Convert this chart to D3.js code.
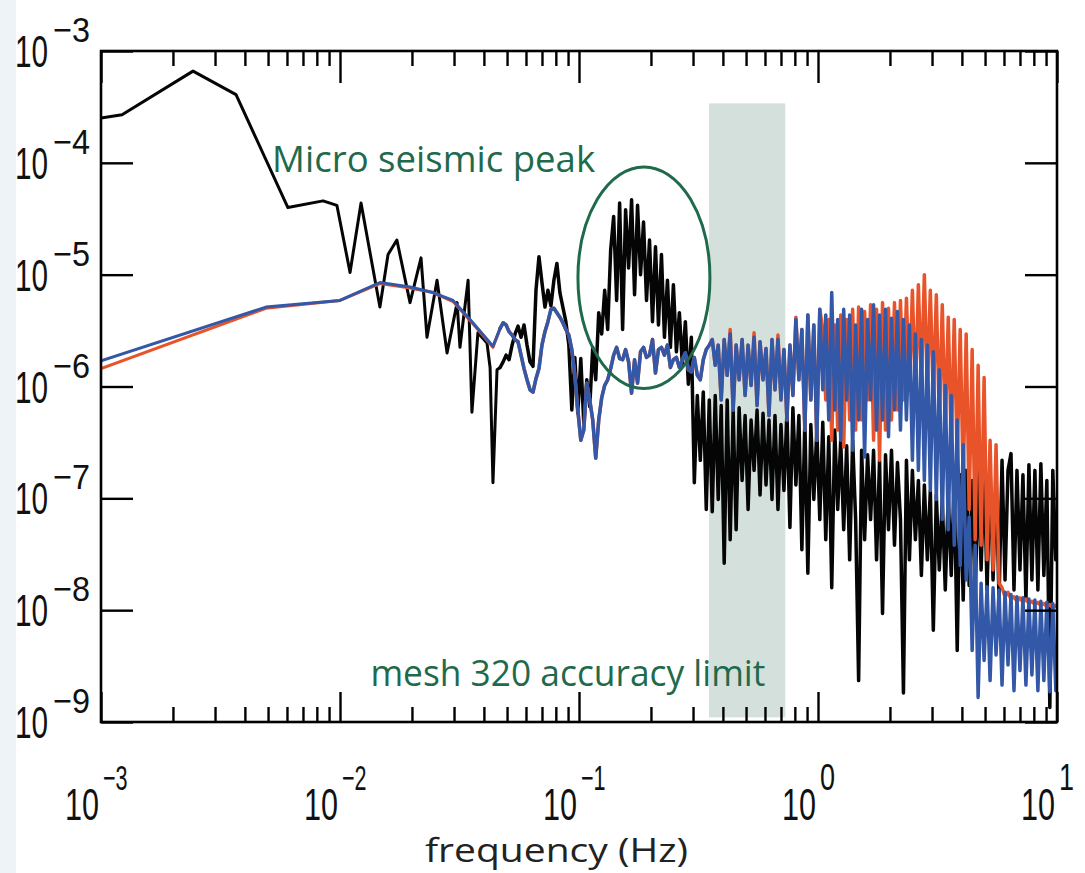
<!DOCTYPE html>
<html>
<head>
<meta charset="utf-8">
<script src="https://cdn.jsdelivr.net/npm/d3@7"></script>
<style>
  html, body { margin: 0; padding: 0; background: #ffffff; }
  svg { display: block; }
</style>
</head>
<body>
<svg id="chart" width="1085" height="873"></svg>
<script>
// ---- axis extents ----
const freqDomain = [1e-3, 10];        // Hz
const powerDomain = [1e-9, 1e-3];
const xTickExponents = [-3, -2, -1, 0, 1];
const yTickExponents = [-9, -8, -7, -6, -5, -4, -3];

// ---- sparse low-frequency bins (log10 Hz, log10 power) ----
const blackLowLogHz = [-3.000, -2.912, -2.615, -2.435, -2.218, -2.071, -2.013, -1.958, -1.912, -1.833,
  -1.799, -1.762, -1.707, -1.661, -1.636, -1.594, -1.552, -1.510, -1.498, -1.464,
  -1.448, -1.423, -1.385, -1.372, -1.360, -1.343];
const blackLowLogPsd = [-3.60, -3.57, -3.18, -3.39, -4.40, -4.34, -4.38, -4.98, -4.36, -5.29,
  -4.82, -4.69, -5.25, -4.85, -5.56, -5.05, -5.70, -5.25, -5.65, -5.05,
  -6.23, -5.52, -5.61, -5.83, -6.86, -5.85];

const blueLowLogHz = [-3.000, -2.310, -2.000, -1.833, -1.707, -1.611, -1.527, -1.444, -1.360];
const blueLowLogPsd = [-5.77, -5.29, -5.23, -5.07, -5.11, -5.16, -5.23, -5.43, -5.64];

const orangeLowLogHz = [-3.000, -2.310, -2.000, -1.833, -1.707, -1.611, -1.527, -1.444, -1.360];
const orangeLowLogPsd = [-5.84, -5.30, -5.23, -5.08, -5.12, -5.16, -5.24, -5.44, -5.65];

// ---- dense part of the spectra on a shared log10 frequency grid ----
const denseLogHz = [
  -1.3300,-1.3175,-1.3050,-1.2925,-1.2800,-1.2675,-1.2550,-1.2425,-1.2300,-1.2175,
  -1.2050,-1.1925,-1.1800,-1.1675,-1.1550,-1.1425,-1.1300,-1.1175,-1.1050,-1.0925,
  -1.0800,-1.0675,-1.0550,-1.0425,-1.0300,-1.0175,-1.0050,-0.9925,-0.9800,-0.9675,
  -0.9550,-0.9425,-0.9300,-0.9175,-0.9050,-0.8925,-0.8800,-0.8675,-0.8550,-0.8425,
  -0.8300,-0.8175,-0.8050,-0.7925,-0.7800,-0.7675,-0.7550,-0.7425,-0.7300,-0.7175,
  -0.7050,-0.6925,-0.6800,-0.6675,-0.6550,-0.6425,-0.6300,-0.6175,-0.6050,-0.5925,
  -0.5800,-0.5675,-0.5550,-0.5425,-0.5300,-0.5175,-0.5050,-0.4925,-0.4800,-0.4675,
  -0.4550,-0.4425,-0.4300,-0.4175,-0.4050,-0.3925,-0.3800,-0.3675,-0.3550,-0.3425,
  -0.3300,-0.3175,-0.3050,-0.2925,-0.2800,-0.2675,-0.2550,-0.2425,-0.2300,-0.2175,
  -0.2050,-0.1925,-0.1800,-0.1675,-0.1550,-0.1425,-0.1300,-0.1175,-0.1050,-0.0925,
  -0.0800,-0.0675,-0.0550,-0.0425,-0.0300,-0.0175,-0.0050,0.0075,0.0200,0.0325,
  0.0450,0.0575,0.0700,0.0825,0.0950,0.1075,0.1200,0.1325,0.1450,0.1575,
  0.1700,0.1825,0.1950,0.2075,0.2200,0.2325,0.2450,0.2575,0.2700,0.2825,
  0.2950,0.3075,0.3200,0.3325,0.3450,0.3575,0.3700,0.3825,0.3950,0.4075,
  0.4200,0.4325,0.4450,0.4575,0.4700,0.4825,0.4950,0.5075,0.5200,0.5325,
  0.5450,0.5575,0.5700,0.5825,0.5950,0.6075,0.6200,0.6325,0.6450,0.6575,
  0.6700,0.6825,0.6950,0.7075,0.7200,0.7325,0.7450,0.7575,0.7700,0.7825,
  0.7950,0.8075,0.8200,0.8325,0.8450,0.8575,0.8700,0.8825,0.8950,0.9075,
  0.9200,0.9325,0.9450,0.9575,0.9700,0.9825,0.9950];

const blackDenseLogPsd = [
  -5.83,-5.78,-5.72,-5.76,-5.63,-5.53,-5.46,-5.56,-5.45,-5.63,
  -5.78,-5.82,-5.14,-4.84,-5.07,-5.29,-5.14,-5.28,-5.05,-4.90,
  -5.16,-5.29,-5.42,-5.63,-6.21,-5.74,-6.24,-5.75,-6.33,-5.94,
  -6.18,-5.65,-5.94,-5.34,-5.53,-5.14,-5.49,-4.78,-4.48,-5.23,
  -4.36,-5.49,-4.42,-4.94,-4.33,-5.18,-4.38,-5.00,-4.53,-5.23,
  -4.69,-5.42,-4.75,-5.45,-4.82,-5.56,-5.05,-5.65,-5.09,-5.69,
  -5.34,-5.81,-5.42,-5.98,-5.56,-6.86,-6.08,-6.66,-6.05,-7.10,
  -6.12,-7.12,-6.08,-7.01,-6.17,-7.58,-6.12,-7.37,-6.21,-7.28,
  -6.19,-6.84,-6.26,-7.10,-6.30,-6.75,-6.21,-6.97,-6.24,-6.88,
  -6.30,-7.01,-6.26,-7.10,-6.34,-6.93,-6.23,-7.26,-6.19,-6.88,
  -6.26,-7.46,-6.30,-7.67,-6.34,-7.01,-6.39,-7.19,-6.32,-7.37,
  -6.45,-7.80,-6.39,-7.10,-6.48,-7.28,-6.53,-7.55,-6.48,-7.19,
  -8.63,-6.57,-7.37,-6.61,-7.19,-6.57,-7.55,-6.66,-8.03,-6.61,
  -7.28,-6.57,-7.42,-6.68,-7.19,-8.74,-6.66,-7.55,-6.75,-7.37,
  -6.84,-7.69,-6.88,-7.55,-6.93,-8.18,-6.97,-7.64,-7.01,-7.82,
  -6.97,-7.69,-6.84,-8.36,-6.79,-7.91,-6.75,-7.78,-6.84,-7.91,
  -6.75,-7.64,-6.70,-7.82,-6.75,-7.73,-6.79,-7.91,-6.66,-7.73,
  -6.75,-6.60,-7.82,-6.75,-7.64,-6.79,-7.91,-6.70,-7.73,-6.75,
  -7.82,-6.69,-7.69,-6.84,-8.87,-6.75,-7.55];

const blueDenseLogPsd = [
  -5.48,-5.43,-5.45,-5.51,-5.54,-5.58,-5.60,-5.72,-5.84,-5.94,
  -6.03,-6.05,-5.93,-5.84,-5.63,-5.51,-5.42,-5.31,-5.30,-5.34,
  -5.38,-5.43,-5.49,-5.54,-5.67,-5.90,-6.21,-6.48,-6.39,-5.97,
  -6.12,-6.30,-6.64,-6.30,-6.10,-5.99,-5.94,-5.84,-5.72,-5.65,
  -5.75,-5.76,-5.67,-5.78,-6.06,-5.76,-5.97,-5.69,-5.65,-5.74,
  -5.72,-5.58,-5.88,-5.67,-5.65,-5.72,-5.63,-5.83,-5.76,-5.74,
  -5.83,-5.76,-5.70,-5.85,-5.87,-5.74,-5.90,-5.94,-5.76,-5.67,
  -5.63,-5.58,-5.81,-5.63,-6.12,-5.58,-5.90,-5.53,-6.21,-5.63,
  -5.94,-5.58,-6.08,-5.63,-5.99,-5.56,-6.17,-5.60,-5.94,-5.66,
  -6.26,-5.58,-6.03,-5.58,-6.12,-5.67,-6.30,-5.63,-6.08,-5.40,
  -5.94,-5.49,-6.39,-5.36,-6.12,-5.45,-6.48,-5.31,-6.03,-5.36,
  -6.30,-5.16,-6.21,-5.40,-6.48,-5.31,-6.12,-5.36,-6.57,-5.45,
  -6.30,-5.31,-6.63,-5.40,-6.12,-5.27,-6.39,-5.36,-6.30,-5.31,
  -6.45,-5.39,-6.21,-5.33,-6.39,-5.40,-6.30,-5.45,-6.66,-5.53,
  -6.75,-5.58,-6.84,-5.63,-6.93,-5.69,-7.01,-5.85,-7.19,-5.99,
  -7.28,-6.08,-7.42,-6.30,-7.60,-6.52,-7.73,-7.17,-8.36,-7.42,
  -8.78,-7.76,-8.45,-7.79,-8.63,-7.80,-8.40,-7.82,-8.67,-7.84,
  -8.49,-7.86,-8.72,-7.88,-8.54,-7.89,-8.67,-7.90,-8.58,-7.91,
  -8.72,-7.92,-8.63,-7.93,-8.73,-7.94,-8.72];

const orangeDenseLogPsd = [
  -5.48,-5.43,-5.45,-5.51,-5.54,-5.58,-5.60,-5.72,-5.84,-5.94,
  -6.03,-6.05,-5.93,-5.84,-5.63,-5.51,-5.42,-5.31,-5.30,-5.34,
  -5.38,-5.43,-5.49,-5.54,-5.67,-5.90,-6.21,-6.48,-6.39,-5.97,
  -6.12,-6.30,-6.64,-6.30,-6.10,-5.99,-5.94,-5.84,-5.72,-5.65,
  -5.75,-5.76,-5.67,-5.78,-6.06,-5.76,-5.97,-5.69,-5.65,-5.74,
  -5.72,-5.58,-5.88,-5.67,-5.65,-5.72,-5.63,-5.83,-5.76,-5.74,
  -5.83,-5.76,-5.70,-5.85,-5.87,-5.74,-5.90,-5.94,-5.76,-5.67,
  -5.63,-5.58,-5.81,-5.63,-6.12,-5.58,-5.90,-5.49,-6.21,-5.63,
  -5.94,-5.58,-6.08,-5.63,-5.99,-5.52,-6.17,-5.60,-5.94,-5.66,
  -6.26,-5.58,-6.03,-5.54,-6.12,-5.67,-6.30,-5.63,-6.08,-5.38,
  -5.94,-5.49,-6.39,-5.36,-6.12,-5.45,-6.48,-5.31,-5.49,-6.12,
  -5.40,-6.48,-5.45,-6.39,-5.36,-6.54,-5.40,-6.30,-5.31,-6.39,
  -5.29,-6.30,-5.33,-6.12,-5.27,-6.48,-5.31,-6.66,-5.25,-6.39,
  -5.30,-6.30,-5.25,-6.21,-5.23,-6.12,-5.21,-6.03,-5.14,-6.08,
  -5.09,-5.99,-5.00,-6.03,-5.14,-6.12,-5.18,-6.30,-5.27,-6.39,
  -5.38,-6.52,-5.40,-6.66,-5.49,-6.86,-5.53,-7.10,-5.67,-7.37,
  -5.81,-7.42,-5.92,-7.55,-6.48,-7.64,-6.52,-7.76,-7.80,-7.88,
  -7.84,-7.90,-7.88,-7.92,-7.89,-7.93,-7.90,-7.94,-7.92,-7.95,
  -7.93,-7.96,-7.94,-7.97,-7.95,-7.98,-7.96];

// ---- annotation regions ----
const bandHz = [0.35, 0.73];              // shaded accuracy-limit band
const bandPower = [1.1e-9, 3.4e-4];
const peakHz = [0.099, 0.353];            // ellipse round the micro-seismic peak
const peakPower = [9.6e-7, 9.2e-5];
const peakLabel = "Micro seismic peak";
const bandLabel = "mesh 320 accuracy limit";
const xTitle = "frequency (Hz)";

// ---- layout ----
const W = 1085, H = 873;
const plot = { left: 101, right: 1057, top: 51, bottom: 722 };
const svg = d3.select("#chart");

const x = d3.scaleLog().domain(freqDomain).range([plot.left, plot.right]);
const y = d3.scaleLog().domain(powerDomain).range([plot.bottom, plot.top]);

const GREEN = "#1f6a4b";
const tickFont = "'Liberation Sans', Arimo, sans-serif";
const textFont = "'Open Sans', 'Noto Sans', sans-serif";

// page edge strip
svg.append("rect").attr("x", 0).attr("y", 0).attr("width", W).attr("height", H).attr("fill", "#ffffff");
svg.append("rect").attr("x", 0).attr("y", 0).attr("width", 16).attr("height", H).attr("fill", "#eef3f8");

svg.append("defs").append("clipPath").attr("id", "plotClip")
  .append("rect")
  .attr("x", plot.left).attr("y", plot.top)
  .attr("width", plot.right - plot.left).attr("height", plot.bottom - plot.top);

// shaded band
svg.append("rect")
  .attr("x", x(bandHz[0]))
  .attr("y", y(bandPower[1]))
  .attr("width", x(bandHz[1]) - x(bandHz[0]))
  .attr("height", y(bandPower[0]) - y(bandPower[1]))
  .attr("fill", "#d4e0dc");

// ---- spectra: sparse low-frequency part and dense part ----
const toPoints = (lfs, lps) => lfs.map((lf, i) => ({ f: Math.pow(10, lf), p: Math.pow(10, lps[i]) }));

const series = [
  { name: "black", color: "#050505",
    low: toPoints(blackLowLogHz, blackLowLogPsd), dense: toPoints(denseLogHz, blackDenseLogPsd) },
  { name: "orange", color: "#e8532a",
    low: toPoints(orangeLowLogHz, orangeLowLogPsd), dense: toPoints(denseLogHz, orangeDenseLogPsd) },
  { name: "blue", color: "#3358a8",
    low: toPoints(blueLowLogHz, blueLowLogPsd), dense: toPoints(denseLogHz, blueDenseLogPsd) }
];

const line = d3.line().x(d => x(d.f)).y(d => y(d.p));

const lines = svg.append("g").attr("clip-path", "url(#plotClip)");
series.forEach(s => {
  const g = lines.append("g").attr("class", "series-" + s.name)
    .attr("fill", "none").attr("stroke", s.color)
    .attr("stroke-linejoin", "round").attr("stroke-linecap", "round");
  // sparse bins joined to the first dense bin
  g.append("path").attr("d", line(s.low.concat([s.dense[0]]))).attr("stroke-width", 3);
  // closely spaced bins
  g.append("path").attr("d", line(s.dense)).attr("stroke-width", 3.5);
});

// ellipse round the micro-seismic peak
svg.append("ellipse")
  .attr("cx", (x(peakHz[0]) + x(peakHz[1])) / 2)
  .attr("cy", (y(peakPower[0]) + y(peakPower[1])) / 2)
  .attr("rx", (x(peakHz[1]) - x(peakHz[0])) / 2)
  .attr("ry", (y(peakPower[0]) - y(peakPower[1])) / 2)
  .attr("fill", "none")
  .attr("stroke", GREEN)
  .attr("stroke-width", 3);

// annotation text
svg.append("text")
  .attr("x", x(5.2e-3)).attr("y", y(8.3e-5))
  .attr("font-family", textFont).attr("font-size", 37)
  .attr("fill", GREEN)
  .attr("textLength", 323).attr("lengthAdjust", "spacingAndGlyphs")
  .text(peakLabel);

svg.append("text")
  .attr("x", x(0.0134)).attr("y", y(2.1e-9))
  .attr("font-family", textFont).attr("font-size", 37)
  .attr("fill", GREEN)
  .attr("textLength", 395).attr("lengthAdjust", "spacingAndGlyphs")
  .text(bandLabel);

// ---- axes ----
const majorX = xTickExponents.map(e => Math.pow(10, e));
const minorX = [];
for (let e = -3; e < 1; e++) for (let m = 2; m <= 9; m++) minorX.push(m * Math.pow(10, e));
const majorY = yTickExponents.map(e => Math.pow(10, e));

function styleAxis(g) {
  g.select(".domain").remove();
  g.selectAll(".tick line").attr("stroke", "#000").attr("stroke-width", 2.4);
  g.selectAll(".tick text").remove();
}

svg.append("g").attr("transform", `translate(0,${plot.bottom})`)
  .call(d3.axisBottom(x).tickValues(majorX).tickSize(-30).tickFormat("")).call(styleAxis);
svg.append("g").attr("transform", `translate(0,${plot.bottom})`)
  .call(d3.axisBottom(x).tickValues(minorX).tickSize(-15).tickFormat("")).call(styleAxis);
svg.append("g").attr("transform", `translate(0,${plot.top})`)
  .call(d3.axisTop(x).tickValues(majorX).tickSize(-32).tickFormat("")).call(styleAxis);
svg.append("g").attr("transform", `translate(0,${plot.top})`)
  .call(d3.axisTop(x).tickValues(minorX).tickSize(-15).tickFormat("")).call(styleAxis);
svg.append("g").attr("transform", `translate(${plot.left},0)`)
  .call(d3.axisLeft(y).tickValues(majorY).tickSize(-32).tickFormat("")).call(styleAxis);
svg.append("g").attr("transform", `translate(${plot.right},0)`)
  .call(d3.axisRight(y).tickValues(majorY).tickSize(-32).tickFormat("")).call(styleAxis);

// frame
svg.append("rect")
  .attr("x", plot.left).attr("y", plot.top)
  .attr("width", plot.right - plot.left).attr("height", plot.bottom - plot.top)
  .attr("fill", "none").attr("stroke", "#000").attr("stroke-width", 2.6);

// ---- tick labels: narrow "10" plus a raised exponent ----
const expText = e => (e < 0 ? "\u2212" + Math.abs(e) : String(e));

function narrowText(g, tx, ty, sx, size, str) {
  g.append("text")
    .attr("transform", `translate(${tx},${ty}) scale(${sx},1)`)
    .attr("font-size", size)
    .text(str);
}

const xLab = svg.append("g").attr("font-family", tickFont).attr("fill", "#111");
xTickExponents.forEach(e => {
  const px = x(Math.pow(10, e));
  narrowText(xLab, px - 36, 820, 0.68, 45, "10");
  narrowText(xLab, px + 2, 790, e < 0 ? 0.6 : 0.75, 36, expText(e));
});

const yLab = svg.append("g").attr("font-family", tickFont).attr("fill", "#111");
yTickExponents.forEach(e => {
  const py = y(Math.pow(10, e));
  narrowText(yLab, 15, py + 16, 0.66, 45, "10");
  narrowText(yLab, 53, py - 9, 0.9, 36, expText(e));
});

// axis title
svg.append("text")
  .attr("x", 425).attr("y", 862)
  .attr("font-family", textFont).attr("font-size", 32)
  .attr("fill", "#222")
  .attr("textLength", 263).attr("lengthAdjust", "spacingAndGlyphs")
  .text(xTitle);
</script>
</body>
</html>
